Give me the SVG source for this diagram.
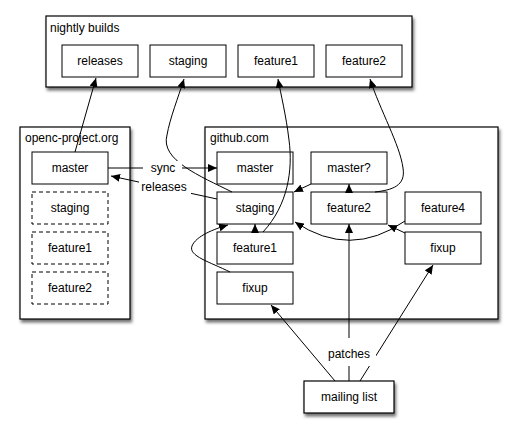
<svg xmlns="http://www.w3.org/2000/svg" width="518" height="437" viewBox="0 0 518 437">
<style>
.cont{fill:#fff;stroke:#000;stroke-width:1.2;filter:url(#sh)}
.box{fill:#fff;stroke:#000;stroke-width:1}
.dash{fill:#fff;stroke:#000;stroke-width:1;stroke-dasharray:4,3}
text{font-family:"Liberation Sans",Arial,sans-serif;font-size:12px;fill:#000}
.c{text-anchor:middle}
.ln{fill:none;stroke:#000;stroke-width:1}
.arr{marker-end:url(#ah)}
.bg{fill:#fff;stroke:none}
</style>
<defs>
<filter id="sh" x="-10%" y="-10%" width="130%" height="130%">
<feDropShadow dx="1.5" dy="3" stdDeviation="1.8" flood-color="#000" flood-opacity="0.55"/>
</filter>
<marker id="ah" markerWidth="10" markerHeight="8" refX="9" refY="4" orient="auto" markerUnits="userSpaceOnUse">
<path d="M0,0 L9,4 L0,8 z" fill="#000"/>
</marker>
</defs>
<rect width="518" height="437" fill="#fff"/>

<g id="nightly">
<rect class="cont" x="46" y="16" width="366" height="71"/>
<text x="50" y="32">nightly builds</text>
</g>
<g id="n-releases"><rect class="box" x="62" y="45" width="76" height="32"/><text class="c" x="100" y="65">releases</text></g>
<g id="n-staging"><rect class="box" x="150" y="45" width="76" height="32"/><text class="c" x="188" y="65">staging</text></g>
<g id="n-feature1"><rect class="box" x="238" y="45" width="76" height="32"/><text class="c" x="276" y="65">feature1</text></g>
<g id="n-feature2"><rect class="box" x="326" y="45" width="76" height="32"/><text class="c" x="364" y="65">feature2</text></g>

<g id="openc">
<rect class="cont" x="20" y="127" width="110" height="192"/>
<text x="25" y="142">openc-project.org</text>
</g>
<g id="o-master"><rect class="box" x="32" y="152" width="76" height="32"/><text class="c" x="70" y="172">master</text></g>
<g id="o-staging"><rect class="dash" x="32" y="192" width="76" height="32"/><text class="c" x="70" y="212">staging</text></g>
<g id="o-feature1"><rect class="dash" x="32" y="232" width="76" height="32"/><text class="c" x="70" y="252">feature1</text></g>
<g id="o-feature2"><rect class="dash" x="32" y="272" width="76" height="32"/><text class="c" x="70" y="292">feature2</text></g>

<g id="github">
<rect class="cont" x="205" y="127" width="293" height="192"/>
<text x="210" y="142">github.com</text>
</g>
<g id="g-master"><rect class="box" x="217" y="152" width="76" height="32"/><text class="c" x="255" y="172">master</text></g>
<g id="g-masterq"><rect class="box" x="311" y="152" width="76" height="32"/><text class="c" x="349" y="172">master?</text></g>
<g id="g-staging"><rect class="box" x="217" y="192" width="76" height="32"/><text class="c" x="255" y="212">staging</text></g>
<g id="g-feature2"><rect class="box" x="311" y="192" width="76" height="32"/><text class="c" x="349" y="212">feature2</text></g>
<g id="g-feature4"><rect class="box" x="405" y="192" width="76" height="32"/><text class="c" x="443" y="212">feature4</text></g>
<g id="g-feature1"><rect class="box" x="217" y="232" width="76" height="32"/><text class="c" x="255" y="252">feature1</text></g>
<g id="g-fixup2"><rect class="box" x="405" y="232" width="76" height="32"/><text class="c" x="443" y="252">fixup</text></g>
<g id="g-fixup1"><rect class="box" x="217" y="272" width="76" height="32"/><text class="c" x="255" y="292">fixup</text></g>

<g id="mailing">
<rect class="cont" x="304" y="381" width="90" height="32"/>
<text class="c" x="349" y="401">mailing list</text>
</g>

<g id="connectors">
<path class="ln arr" d="M75,152 L96,78"/>
<path class="ln arr" d="M232,192 C200,176 160,160 167,135 C170,118 178,98 184,79"/>
<path class="ln arr" d="M263,232 C288,205 293,170 289,140 C286,115 281,95 278,79"/>
<path class="ln arr" d="M375,192 C392,190 406,186 403,168 C400,145 380,110 370,79"/>
<path class="ln arr" d="M108,168 L217,168"/>
<path class="ln arr" d="M217,199 L111,176"/>
<path class="ln arr" d="M255,232 L255,224"/>
<path class="ln arr" d="M230,272 C210,262 188,256 192,246 C196,236 214,229 228,225"/>
<path class="ln arr" d="M311,184 L294,192"/>
<path class="ln arr" d="M349,192 L349,184"/>
<path class="ln arr" d="M405,221 Q350,259 295,222"/>
<path class="ln arr" d="M405,233 L388,225"/>
<path class="ln arr" d="M349,381 L349,224"/>
<path class="ln arr" d="M335,381 L271,305"/>
<path class="ln arr" d="M360,381 L433,265"/>
<rect class="bg" x="143" y="161" width="39" height="14"/>
<text class="c" x="163" y="172">sync</text>
<rect class="bg" x="139" y="180" width="52" height="15"/>
<text class="c" x="164" y="191">releases</text>
<rect class="bg" x="324" y="338" width="52" height="28"/>
<text class="c" x="349" y="358">patches</text>
</g>
</svg>
